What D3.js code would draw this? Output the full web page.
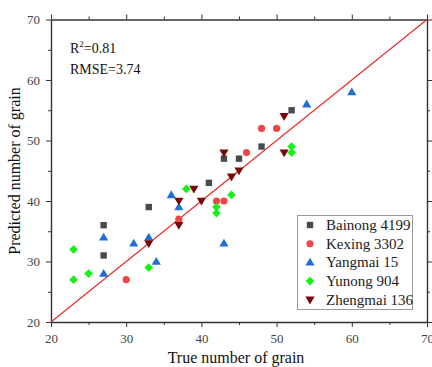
<!DOCTYPE html>
<html><head><meta charset="utf-8">
<script src="https://cdn.jsdelivr.net/npm/d3@7"></script>
<style>body{margin:0;background:#fff}svg{display:block}text{font-family:"Liberation Serif","Times New Roman",serif}</style>
</head><body><svg id="c" width="432" height="367"></svg>
<script>
const seriesNames = ["Bainong 4199","Kexing 3302","Yangmai 15","Yunong 904","Zhengmai 136"];
const bainong = [[27,36],[27,31],[33,39],[41,43],[43,47],[45,47],[48,49],[52,55]];
const kexing = [[30,27],[37,37],[42,40],[43,40],[46,48],[48,52],[50,52]];
const yangmai = [[27,34],[27,28],[31,33],[33,34],[34,30],[36,41],[37,39],[43,33],[54,56],[60,58]];
const yunong = [[23,32],[23,27],[25,28],[33,29],[38,42],[42,39],[42,38],[44,41],[52,49],[52,48]];
const zhengmai = [[33,33],[37,40],[37,36],[39,42],[40,40],[43,48],[44,44],[45,45],[51,54],[51,48]];
const majorTicks = [20,30,40,50,60,70];
const minorTicks = [25,35,45,55,65];
const stats = ["R²=0.81","RMSE=3.74"];

const colors = ["#4a4a4a","#f04545","#1f6fd8","#19ef19","#7a0606"];
const shapes = ["square","circle","triangle","diamond","down"];
const data = [bainong,kexing,yangmai,yunong,zhengmai];

const svg = d3.select("#c");
const x = d3.scaleLinear().domain([20,70]).range([51,427]);
const y = d3.scaleLinear().domain([20,70]).range([322,19.5]);

function marker(shape){
  if(shape==="square") return "M-3.2,-3.2H3.2V3.2H-3.2Z";
  if(shape==="circle") return d3.symbol(d3.symbolCircle, 40)();
  if(shape==="triangle") return "M0,-4.6L4.6,3.2L-4.6,3.2Z";
  if(shape==="down") return "M0,4.6L4.6,-3.2L-4.6,-3.2Z";
  if(shape==="diamond") return "M0,-4.4L4.4,0L0,4.4L-4.4,0Z";
}

const axisColor = "#333";
const labelColor = "#444";
// axes
function styleAxis(g){
  g.select(".domain").attr("stroke",axisColor).attr("stroke-width",1.4);
  g.selectAll(".tick line").attr("stroke",axisColor).attr("stroke-width",1);
  g.selectAll("text").attr("fill",labelColor).style("font-size","13px").style("font-family","Liberation Serif, serif");
}
const gB = svg.append("g").attr("transform","translate(0,322)")
  .call(d3.axisBottom(x).tickValues(majorTicks).tickSize(5).tickSizeOuter(0).tickPadding(7).tickFormat(d3.format("d")));
styleAxis(gB);
svg.append("g").attr("transform","translate(0,322)")
  .call(d3.axisBottom(x).tickValues(minorTicks).tickSize(3).tickSizeOuter(0).tickFormat(""))
  .call(g=>{g.select(".domain").remove();g.selectAll("line").attr("stroke",axisColor);});
const gL = svg.append("g").attr("transform","translate(51,0)")
  .call(d3.axisLeft(y).tickValues(majorTicks).tickSize(5).tickSizeOuter(0).tickPadding(6).tickFormat(d3.format("d")));
styleAxis(gL);
svg.append("g").attr("transform","translate(51,0)")
  .call(d3.axisLeft(y).tickValues(minorTicks).tickSize(3).tickSizeOuter(0).tickFormat(""))
  .call(g=>{g.select(".domain").remove();g.selectAll("line").attr("stroke",axisColor);});
const gT = svg.append("g").attr("transform","translate(0,19.5)")
  .call(d3.axisTop(x).tickValues(majorTicks).tickSize(5).tickSizeOuter(0).tickFormat(""));
styleAxis(gT);
svg.append("g").attr("transform","translate(0,19.5)")
  .call(d3.axisTop(x).tickValues(minorTicks).tickSize(3).tickSizeOuter(0).tickFormat(""))
  .call(g=>{g.select(".domain").remove();g.selectAll("line").attr("stroke",axisColor);});
const gR = svg.append("g").attr("transform","translate(427,0)")
  .call(d3.axisRight(y).tickValues(majorTicks).tickSize(5).tickSizeOuter(0).tickFormat(""));
styleAxis(gR);
svg.append("g").attr("transform","translate(427,0)")
  .call(d3.axisRight(y).tickValues(minorTicks).tickSize(3).tickSizeOuter(0).tickFormat(""))
  .call(g=>{g.select(".domain").remove();g.selectAll("line").attr("stroke",axisColor);});

// 1:1 line
svg.append("line").attr("x1",x(20)).attr("y1",y(20)).attr("x2",x(70)).attr("y2",y(70))
  .attr("stroke","#e8262a").attr("stroke-width",1.1);

// points
data.forEach((arr,i)=>{
  svg.append("g").selectAll("path").data(arr).join("path")
    .attr("d",marker(shapes[i]))
    .attr("transform",d=>`translate(${x(d[0])},${y(d[1])})`)
    .attr("fill",colors[i]);
});

// stats text
svg.append("text").attr("x",70).attr("y",53).style("font-size","14px").attr("fill","#111")
  .html('R<tspan dy="-6" style="font-size:9px">2</tspan><tspan dy="6">=0.81</tspan>');
svg.append("text").attr("x",70).attr("y",74).style("font-size","14px").attr("fill","#111").text(stats[1]);

// legend
const lg = svg.append("g");
lg.append("rect").attr("x",297.5).attr("y",215.5).attr("width",115).attr("height",94)
  .attr("fill","#fff").attr("stroke","#999").attr("stroke-width",1);
seriesNames.forEach((n,i)=>{
  const cy = 225 + i*18.7;
  lg.append("path").attr("d",marker(shapes[i])).attr("transform",`translate(310,${cy})`).attr("fill",colors[i]);
  lg.append("text").attr("x",326).attr("y",cy+5).style("font-size","15px").attr("fill","#222").text(n);
});

// axis titles
svg.append("text").attr("x",236).attr("y",363).attr("text-anchor","middle").style("font-size","16px").attr("fill","#111").text("True number of grain");
svg.append("text").attr("transform","translate(20,171) rotate(-90)").attr("text-anchor","middle").style("font-size","16px").attr("fill","#111").text("Predicted number of grain");
</script></body></html>
